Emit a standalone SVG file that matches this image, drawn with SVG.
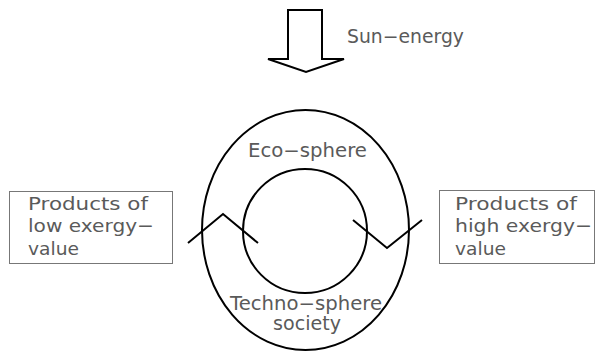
<svg xmlns="http://www.w3.org/2000/svg" width="596" height="354" viewBox="0 0 596 354">
<style>
  .t { font-family: "DejaVu Sans", "Liberation Sans", sans-serif; font-size: 19px; fill: #5a5a5a; }
  .s { font-size: 18px; }
  .ln { fill: none; stroke: #000; stroke-width: 2; stroke-linejoin: miter; }
  .box { fill: #fff; stroke: #777; stroke-width: 1; }
</style>
<rect width="596" height="354" fill="#fff"/>
<g id="sun">
  <path class="ln" d="M288,10 L322,10 L322,59 L344,59 L306,72 L268,59 L288,59 Z"/>
  <text class="t" x="347" y="43" textLength="117" lengthAdjust="spacingAndGlyphs">Sun−energy</text>
</g>
<g id="eco-sphere">
  <ellipse class="ln" cx="305.5" cy="230" rx="103.5" ry="120"/>
  <text class="t" x="248" y="157" textLength="119" lengthAdjust="spacingAndGlyphs">Eco−sphere</text>
</g>
<g id="techno-sphere">
  <circle class="ln" cx="305" cy="231" r="62"/>
  <text class="t" x="230" y="310" textLength="152" lengthAdjust="spacingAndGlyphs">Techno−sphere</text>
  <text class="t" x="273" y="330" textLength="68" lengthAdjust="spacingAndGlyphs">society</text>
</g>
<g id="low-products">
  <rect class="box" x="9.5" y="191.5" width="163" height="72"/>
  <text class="t s" x="28" y="210" textLength="120" lengthAdjust="spacingAndGlyphs">Products of</text>
  <text class="t s" x="28" y="232" textLength="126" lengthAdjust="spacingAndGlyphs">low exergy−</text>
  <text class="t s" x="28" y="255" textLength="51" lengthAdjust="spacingAndGlyphs">value</text>
</g>
<g id="high-products">
  <rect class="box" x="439.5" y="190.5" width="155" height="73"/>
  <text class="t s" x="455" y="210" textLength="122" lengthAdjust="spacingAndGlyphs">Products of</text>
  <text class="t s" x="455" y="232" textLength="137" lengthAdjust="spacingAndGlyphs">high exergy−</text>
  <text class="t s" x="455" y="255" textLength="51" lengthAdjust="spacingAndGlyphs">value</text>
</g>
<g id="connectors">
  <polyline class="ln" points="188,243 223,214 258,243"/>
  <polyline class="ln" points="353,220 387,248 422,220"/>
</g>
</svg>
